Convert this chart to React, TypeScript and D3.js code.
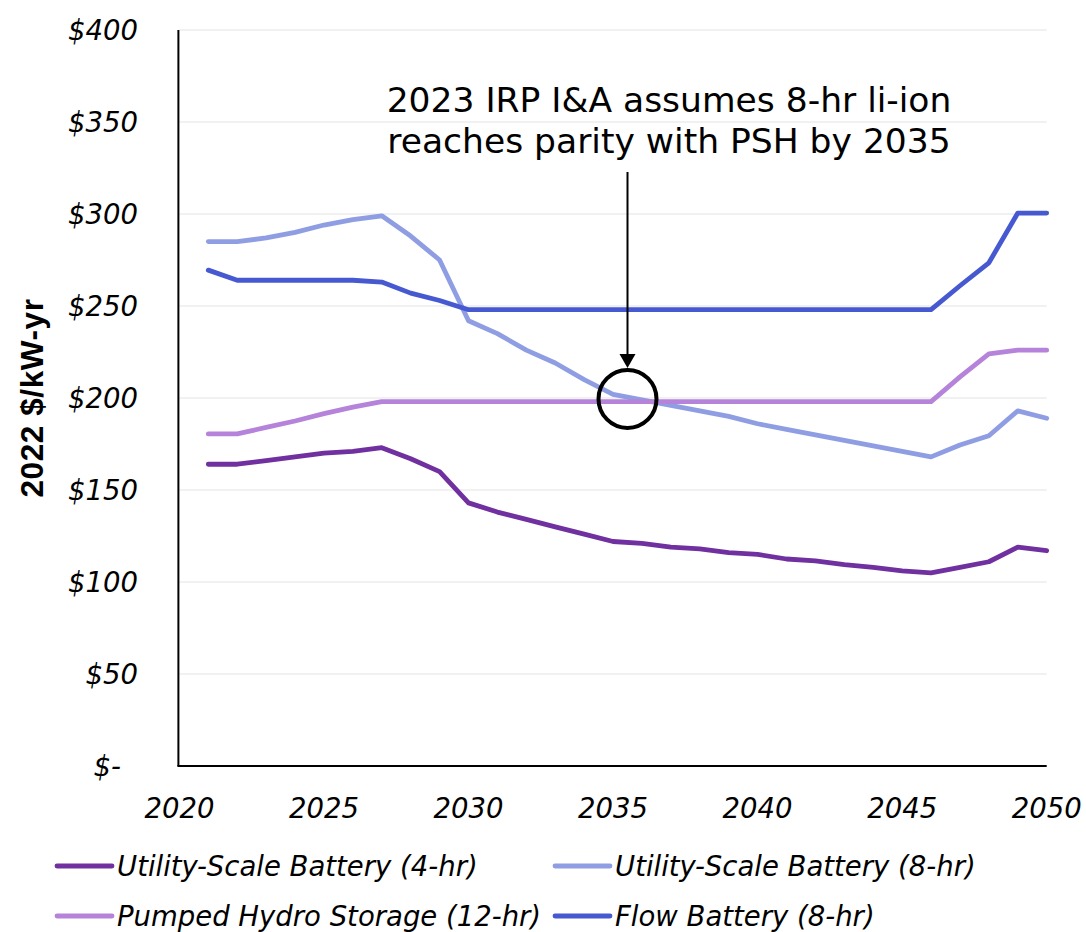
import React from "react";
import * as d3 from "d3";

// Levelized storage cost by year, 2022 $/kW-yr
const years = [
  2021, 2022, 2023, 2024, 2025, 2026, 2027, 2028, 2029, 2030,
  2031, 2032, 2033, 2034, 2035, 2036, 2037, 2038, 2039, 2040,
  2041, 2042, 2043, 2044, 2045, 2046, 2047, 2048, 2049, 2050,
];

const battery4hr = [
  164, 164, 166, 168, 170, 171, 173, 167, 160, 143,
  138, 134, 130, 126, 122, 121, 119, 118, 116, 115,
  112.5, 111.5, 109.5, 108, 106, 105, 108, 111, 119, 117,
];

const battery8hr = [
  285, 285, 287, 290, 294, 297, 299, 288, 275, 242,
  235, 226, 219, 210, 202, 199, 196, 193, 190, 186,
  183, 180, 177, 174, 171, 168, 174.5, 179.5, 193, 189,
];

const pumpedHydro = [
  180.5, 180.5, 184, 187.5, 191.5, 195, 198, 198, 198, 198,
  198, 198, 198, 198, 198, 198, 198, 198, 198, 198,
  198, 198, 198, 198, 198, 198, 211.5, 224, 226, 226,
];

const flowBattery = [
  269.5, 264, 264, 264, 264, 264, 263, 257, 253, 248,
  248, 248, 248, 248, 248, 248, 248, 248, 248, 248,
  248, 248, 248, 248, 248, 248, 261, 273.5, 300.5, 300.5,
];

const seriesNames = [
  "Utility-Scale Battery (4-hr)",
  "Utility-Scale Battery (8-hr)",
  "Pumped Hydro Storage (12-hr)",
  "Flow Battery (8-hr)",
];
const seriesColors = ["#7030a0", "#8f9ee3", "#b584da", "#4659d1"];
const seriesValues = [battery4hr, battery8hr, pumpedHydro, flowBattery];

const yTicks = [0, 50, 100, 150, 200, 250, 300, 350, 400];
const xTicks = [2020, 2025, 2030, 2035, 2040, 2045, 2050];

const annotationLines = [
  "2023 IRP I&A assumes 8-hr li-ion",
  "reaches parity with PSH by 2035",
];
// Parity point highlighted by the callout circle
const parityYear = 2035.5;
const parityValue = 199.5;

const W = 1086;
const H = 932;
const plot = { left: 179.4, right: 1046.7, top: 30, bottom: 766 };

const tickFont = "'DejaVu Sans', sans-serif";

export default function App() {
  const x = d3.scaleLinear().domain([2020, 2050]).range([plot.left, plot.right]);
  const y = d3.scaleLinear().domain([0, 400]).range([plot.bottom, plot.top]);

  const line = d3
    .line<number>()
    .x((_, i) => x(years[i]))
    .y((v) => y(v));

  // Draw order: lighter series below the darker ones
  const drawOrder = [1, 2, 0, 3];

  const cx = x(parityYear);
  const cy = y(parityValue);
  const r = 29;
  const arrowTop = 172;
  const arrowTip = cy - r - 2;

  const legendItems = [
    { i: 0, sx: 57, ty: 876 },
    { i: 1, sx: 555, ty: 876 },
    { i: 2, sx: 57, ty: 926 },
    { i: 3, sx: 555, ty: 926 },
  ];

  return (
    <svg
      width={W}
      height={H}
      style={{ position: "absolute", left: 0, top: 0, background: "#fff" }}
    >
      {/* gridlines */}
      {yTicks.map((t) => (
        <line
          key={"g" + t}
          x1={plot.left}
          x2={plot.right}
          y1={y(t)}
          y2={y(t)}
          stroke="#ececec"
          strokeWidth={1.5}
        />
      ))}

      {/* axes */}
      <line x1={plot.left - 1} x2={plot.left - 1} y1={plot.top} y2={plot.bottom} stroke="#000" strokeWidth={2} />
      <line x1={plot.left - 2} x2={plot.right} y1={plot.bottom} y2={plot.bottom} stroke="#000" strokeWidth={2} />

      {/* y tick labels */}
      {yTicks.map((t) => (
        <text
          key={"yt" + t}
          x={t === 0 ? 121 : 138}
          y={y(t) + 10}
          textAnchor="end"
          fontFamily={tickFont}
          fontStyle="italic"
          fontSize={27.5}
          fill="#000"
        >
          {t === 0 ? "$-" : `$${t}`}
        </text>
      ))}

      {/* x tick labels */}
      {xTicks.map((t) => (
        <text
          key={"xt" + t}
          x={x(t)}
          y={818}
          textAnchor="middle"
          fontFamily={tickFont}
          fontStyle="italic"
          fontSize={27.5}
          fill="#000"
        >
          {t}
        </text>
      ))}

      {/* y axis title */}
      <text
        transform={`translate(43, ${(plot.top + plot.bottom) / 2}) rotate(-90)`}
        textAnchor="middle"
        fontFamily="'Liberation Sans', Arial, sans-serif"
        fontWeight="bold"
        fontSize={31.5}
        letterSpacing={0.6}
        fill="#000"
      >
        2022 $/kW-yr
      </text>

      {/* series */}
      {drawOrder.map((i) => (
        <path
          key={"s" + i}
          d={line(seriesValues[i]) || ""}
          fill="none"
          stroke={seriesColors[i]}
          strokeWidth={4.8}
          strokeLinejoin="round"
          strokeLinecap="round"
        />
      ))}

      {/* annotation */}
      {annotationLines.map((s, k) => (
        <text
          key={"a" + k}
          x={669}
          y={112 + k * 41}
          textAnchor="middle"
          fontFamily={tickFont}
          fontSize={34.5}
          fill="#000"
        >
          {s}
        </text>
      ))}
      <line x1={cx} x2={cx} y1={arrowTop} y2={arrowTip - 12} stroke="#000" strokeWidth={2} />
      <path
        d={`M${cx - 8},${arrowTip - 14} L${cx + 8},${arrowTip - 14} L${cx},${arrowTip} Z`}
        fill="#000"
      />
      <circle cx={cx} cy={cy} r={r} fill="none" stroke="#000" strokeWidth={4} />

      {/* legend */}
      {legendItems.map(({ i, sx, ty }) => (
        <g key={"l" + i}>
          <line
            x1={sx}
            x2={sx + 55}
            y1={ty - 10}
            y2={ty - 10}
            stroke={seriesColors[i]}
            strokeWidth={4.8}
            strokeLinecap="round"
          />
          <text
            x={sx + 60}
            y={ty}
            fontFamily={tickFont}
            fontStyle="italic"
            fontSize={27.5}
            fill="#000"
          >
            {seriesNames[i]}
          </text>
        </g>
      ))}
    </svg>
  );
}
